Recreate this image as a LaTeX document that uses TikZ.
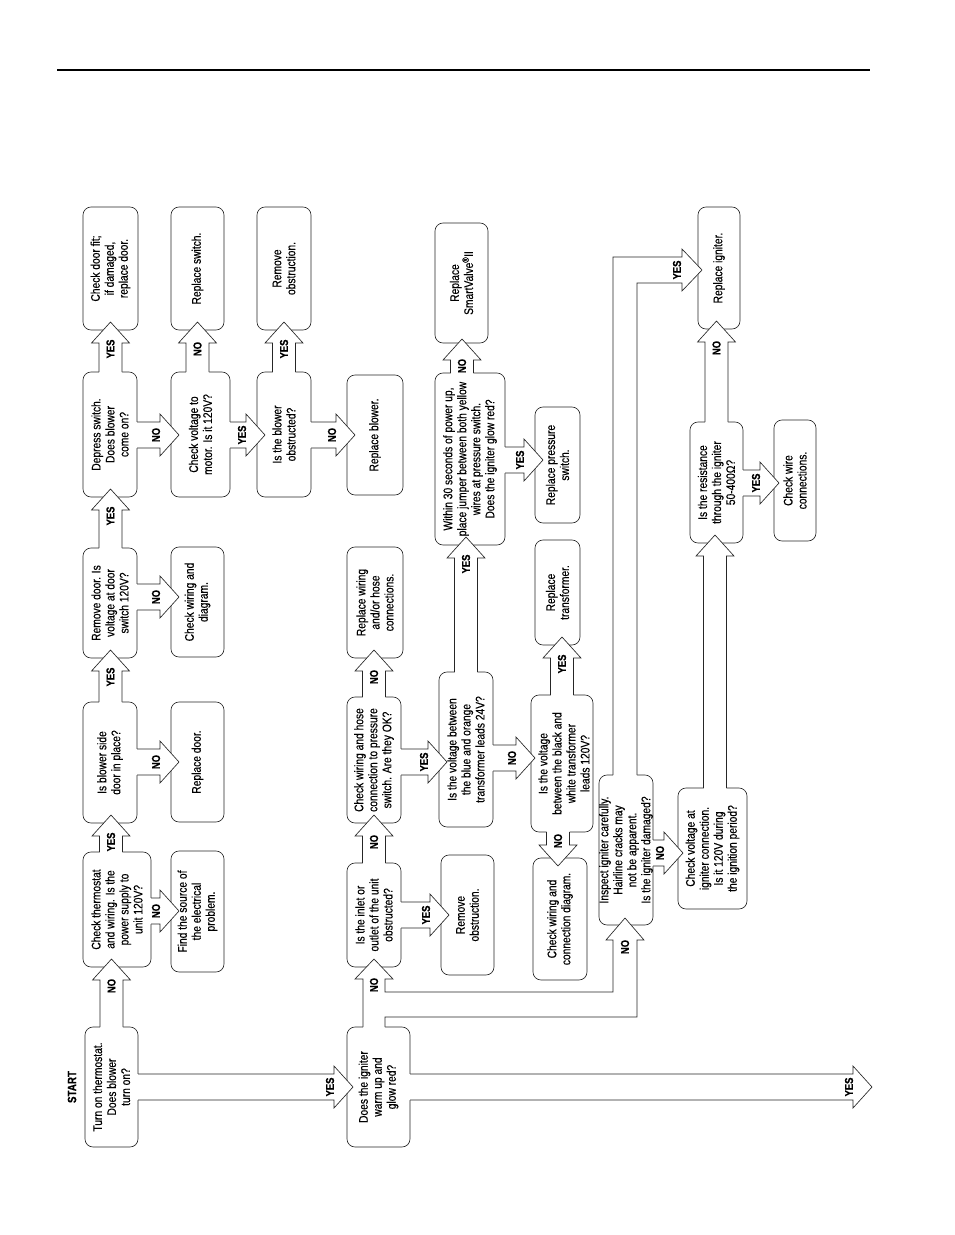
\documentclass[tikz,border=0pt]{standalone}
\usepackage{fontspec}
\setmainfont{Liberation Sans}[FakeStretch=0.82,FakeBold=0.4]
\usetikzlibrary{calc}
\tikzset{
 box/.style={draw=black!85, line width=0.65pt, rounded corners=8pt, fill=white, inner sep=0pt, outer sep=0pt},
 txt/.style={rotate=90, align=center, font=\fontsize{12.5}{14}\selectfont, inner sep=0pt, text=black},
 lab/.style={rotate=90, font=\bfseries\fontsize{11.5}{12}\selectfont, inner sep=0pt},
 arw/.style={draw=black!85, line width=0.65pt, line join=miter},
 endpt/.style={inner sep=0pt, outer sep=0pt, minimum size=0pt},
}
\newcommand\bx[5]{\node[box, minimum width={#3-#2}, minimum height={#5-#4}] (#1) at ({(#2+#3)/2},{(#4+#5)/2}) {};}
% up arrow: [#1 poke] #2 source (below), #3 target (above), #4 band centre x, #5 label
\newcommand\uparw[5][8]{%
 \fill[white] let \p1=(#2.north), \p2=(#3.south) in
  ({#4pt-11.5pt},{\y1-1.5pt}) -- ({#4pt-11.5pt},{\y2+#1pt-21pt}) -- ({#4pt-19pt},{\y2+#1pt-21pt}) -- ({#4pt},{\y2+#1pt}) -- ({#4pt+19pt},{\y2+#1pt-21pt}) -- ({#4pt+11.5pt},{\y2+#1pt-21pt}) -- ({#4pt+11.5pt},{\y1-1.5pt}) -- cycle;
 \draw[arw] let \p1=(#2.north), \p2=(#3.south) in
  ({#4pt-11.5pt},{\y1}) -- ({#4pt-11.5pt},{\y2+#1pt-21pt}) -- ({#4pt-19pt},{\y2+#1pt-21pt}) -- ({#4pt},{\y2+#1pt}) -- ({#4pt+19pt},{\y2+#1pt-21pt}) -- ({#4pt+11.5pt},{\y2+#1pt-21pt}) -- ({#4pt+11.5pt},{\y1})
  ({#4pt},{\y2+#1pt-27pt}) node[lab] {#5};}
% right arrow: [#1 poke] #2 source (left), #3 target (right), #4 band centre y, #5 label
\newcommand\rtarw[5][8]{%
 \fill[white] let \p1=(#2.east), \p2=(#3.west) in
  ({\x1-1.5pt},{-#4pt+13pt}) -- ({\x2+#1pt-19pt},{-#4pt+13pt}) -- ({\x2+#1pt-19pt},{-#4pt+21pt}) -- ({\x2+#1pt},{-#4pt}) -- ({\x2+#1pt-19pt},{-#4pt-21pt}) -- ({\x2+#1pt-19pt},{-#4pt-13pt}) -- ({\x1-1.5pt},{-#4pt-13pt}) -- cycle;
 \draw[arw] let \p1=(#2.east), \p2=(#3.west) in
  ({\x1},{-#4pt+13pt}) -- ({\x2+#1pt-19pt},{-#4pt+13pt}) -- ({\x2+#1pt-19pt},{-#4pt+21pt}) -- ({\x2+#1pt},{-#4pt}) -- ({\x2+#1pt-19pt},{-#4pt-21pt}) -- ({\x2+#1pt-19pt},{-#4pt-13pt}) -- ({\x1},{-#4pt-13pt})
  ({\x2+#1pt-23pt},{-#4pt}) node[lab] {#5};}
% down arrow: [#1 poke] #2 source (above), #3 target (below), #4 band centre x, #5 label
\newcommand\dnarw[5][8]{%
 \fill[white] let \p1=(#2.south), \p2=(#3.north) in
  ({#4pt-11.5pt},{\y1+1.5pt}) -- ({#4pt-11.5pt},{\y2-#1pt+21pt}) -- ({#4pt-19pt},{\y2-#1pt+21pt}) -- ({#4pt},{\y2-#1pt}) -- ({#4pt+19pt},{\y2-#1pt+21pt}) -- ({#4pt+11.5pt},{\y2-#1pt+21pt}) -- ({#4pt+11.5pt},{\y1+1.5pt}) -- cycle;
 \draw[arw] let \p1=(#2.south), \p2=(#3.north) in
  ({#4pt-11.5pt},{\y1}) -- ({#4pt-11.5pt},{\y2-#1pt+21pt}) -- ({#4pt-19pt},{\y2-#1pt+21pt}) -- ({#4pt},{\y2-#1pt}) -- ({#4pt+19pt},{\y2-#1pt+21pt}) -- ({#4pt+11.5pt},{\y2-#1pt+21pt}) -- ({#4pt+11.5pt},{\y1})
  ({#4pt},{\y2-#1pt+25pt}) node[lab] {#5};}

\begin{document}
\begin{tikzpicture}[x=1pt,y=-1pt]
\useasboundingbox (0,0) rectangle (954,1235);
\draw[line width=1.6pt] (57,70) -- (870,70);

% boxes
\bx{A1}{85}{138}{1027}{1147}
\bx{A2}{83}{151}{852}{967}
\bx{A3}{83}{137}{702}{823}
\bx{A4}{83}{137}{548}{658}
\bx{A5}{83}{137}{372}{497}
\bx{A6}{83}{138}{207}{330}
\bx{B2}{171}{224}{851}{972}
\bx{B3}{171}{224}{702}{822}
\bx{B4}{171}{224}{547}{657}
\bx{B5}{171}{230}{372}{497}
\bx{B6}{171}{224}{207}{330}
\bx{C5}{257}{311}{372}{497}
\bx{C6}{257}{311}{207}{330}
\bx{D5}{347}{403}{375}{495}
\bx{D1}{347}{410}{1027}{1147}
\bx{D2}{347}{401}{863}{967}
\bx{D3}{347}{401}{697}{823}
\bx{D4}{347}{403}{547}{658}
\bx{E2}{441}{494}{855}{975}
\bx{E3}{439}{493}{672}{827}
\bx{E4}{435}{505}{373}{545}
\bx{E5}{435}{488}{223}{343}
\bx{F4}{535}{580}{407}{523}
\bx{F3}{531}{593}{695}{832}
\bx{F5}{535}{580}{540}{645}
\bx{F2}{533}{587}{858}{980}
\bx{G1}{599}{653}{775}{925}
\bx{H1}{678}{747}{788}{909}
\bx{H2}{690}{743}{422}{543}
\bx{H3}{698}{740}{207}{329}
\bx{H4}{774}{816}{420}{541}
\node[endpt] (yesend) at (864,1087) {};

% fat arrows
\uparw{A1}{A2}{111.5}{NO}
\uparw{A2}{A3}{111}{YES}
\uparw{A3}{A4}{110.5}{YES}
\uparw{A4}{A5}{110.5}{YES}
\uparw{A5}{A6}{110.5}{YES}
\rtarw[6]{A1}{D1}{1087}{YES}
\rtarw{A2}{B2}{911}{NO}
\rtarw{A3}{B3}{762}{NO}
\rtarw{A4}{B4}{597}{NO}
\rtarw{A5}{B5}{435}{NO}
\uparw{B5}{B6}{197.5}{NO}
\rtarw{B5}{C5}{435}{YES}
\uparw{C5}{C6}{284}{YES}
\rtarw{C5}{D5}{435}{NO}
\rtarw{D1}{yesend}{1087}{YES}
\rtarw{D2}{E2}{915}{YES}
\uparw{D2}{D3}{374}{NO}
\rtarw{D3}{E3}{762}{YES}
\uparw{D3}{D4}{374}{NO}
\uparw{E3}{E4}{466}{YES}
\rtarw[4]{E3}{F3}{758}{NO}
\uparw[4]{E4}{E5}{462}{NO}
\rtarw{E4}{F4}{460}{YES}
\uparw{F3}{F5}{562}{YES}
\dnarw{F3}{F2}{558}{NO}
\rtarw[5]{G1}{H1}{853}{NO}
\uparw{H1}{H2}{715}{}
\uparw{H2}{H3}{716.5}{NO}
\rtarw[5]{H2}{H4}{483}{YES}

% branching NO band from D1 to D2 and to G1
\fill[white] (363,1028.5) -- (363,979) -- (355,979) -- (374,959) -- (393,979) -- (385,979) -- (385,992) -- (613,992) -- (613,940) -- (606,940) -- (625,918) -- (644,940) -- (637,940) -- (637,1017) -- (385,1017) -- (385,1028.5) -- cycle;
\draw[arw] (385,0 |- D1.north) -- (385,1017) -- (637,1017) -- (637,940) -- (644,940) -- (625,918) -- (606,940) -- (613,940) -- (613,992) -- (385,992) -- (385,979) -- (393,979) -- (374,959) -- (355,979) -- (363,979) -- (363,0 |- D1.north);
\node[lab] at (374,985) {NO};
\node[lab] at (625,947) {NO};

% YES band from G1 to H3
\fill[white] (613,776.5) -- (613,257) -- (682,257) -- (682,249) -- (702,270) -- (682,291) -- (682,283) -- (637,283) -- (637,776.5) -- cycle;
\draw[arw] (613,0 |- G1.north) -- (613,257) -- (682,257) -- (682,249) -- (702,270) -- (682,291) -- (682,283) -- (637,283) -- (637,0 |- G1.north);
\node[lab] at (677,270) {YES};

% texts
\node[lab, font=\bfseries\fontsize{12}{12}\selectfont] (start) at (72,1087) {START};
\node[txt] (A1t) at (A1) {Turn on thermostat.\\Does blower\\turn on?};
\node[txt] (A2t) at (A2) {Check thermostat\\and wiring. Is the\\power supply to\\unit 120V?};
\node[txt] (A3t) at (A3) {Is blower side\\door in place?};
\node[txt] (A4t) at (A4) {Remove door. Is\\voltage at door\\switch 120V?};
\node[txt] (A5t) at (A5) {Depress switch.\\Does blower\\come on?};
\node[txt] (A6t) at (A6) {Check door fit;\\if damaged,\\replace door.};
\node[txt] (B2t) at (B2) {Find the source of\\the electrical\\problem.};
\node[txt] (B3t) at (B3) {Replace door.};
\node[txt] (B4t) at (B4) {Check wiring and\\diagram.};
\node[txt] (B5t) at (B5) {Check voltage to\\motor. Is it 120V?};
\node[txt] (B6t) at (B6) {Replace switch.};
\node[txt] (C5t) at (C5) {Is the blower\\obstructed?};
\node[txt] (C6t) at (C6) {Remove\\obstruction.};
\node[txt] (D5t) at (D5) {Replace blower.};
\node[txt] (D1t) at (D1) {Does the igniter\\warm up and\\glow red?};
\node[txt] (D2t) at (D2) {Is the inlet or\\outlet of the unit\\obstructed?};
\node[txt] (D3t) at (D3) {Check wiring and hose\\connection to pressure\\switch. Are they OK?};
\node[txt] (D4t) at (D4) {Replace wiring\\and/or hose\\connections.};
\node[txt] (E2t) at (E2) {Remove\\obstruction.};
\node[txt] (E3t) at (E3) {Is the voltage between\\the blue and orange\\transformer leads 24V?};
\node[txt] (E4t) at (E4) {Within 30 seconds of power up,\\place jumper between both yellow\\wires at pressure switch.\\Does the igniter glow red?};
\node[txt] (E5t) at (E5) {Replace\\SmartValve\textsuperscript{®}II};
\node[txt] (F4t) at (F4) {Replace pressure\\switch.};
\node[txt] (F3t) at ([xshift=2pt]F3.center) {Is the voltage\\between the black and\\white transformer\\leads 120V?};
\node[txt] (F5t) at (F5) {Replace\\transformer.};
\node[txt] (F2t) at (F2) {Check wiring and\\connection diagram.};
\node[txt] (G1t) at (G1) {Inspect igniter carefully.\\Hairline cracks may\\not be apparent.\\Is the igniter damaged?};
\node[txt] (H1t) at (H1) {Check voltage at\\igniter connection.\\Is it 120V during\\the ignition period?};
\node[txt] (H2t) at (H2) {Is the resistance\\through the igniter\\50-400Ω?};
\node[txt] (H3t) at (H3) {Replace igniter.};
\node[txt] (H4t) at (H4) {Check wire\\connections.};
\end{tikzpicture}
\end{document}
